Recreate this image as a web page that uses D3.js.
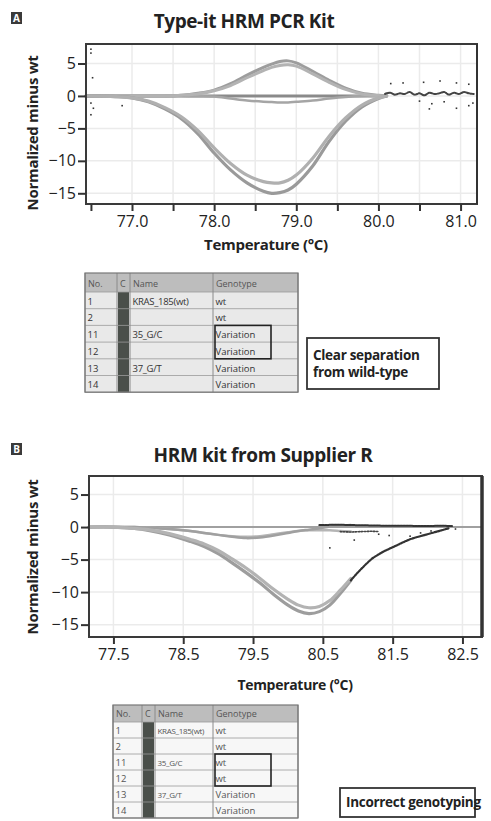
<!DOCTYPE html>
<html>
<head>
<meta charset="utf-8">
<script src="https://cdn.jsdelivr.net/npm/d3@7/dist/d3.min.js"></script>
<style>
  html, body { margin: 0; padding: 0; background: #fff; }
  svg { display: block; }
  text { font-family: "Open Sans", "Liberation Sans", sans-serif; }
</style>
</head>
<body>
<svg id="chart" width="491" height="821"></svg>
<script>
// ---------- Panel A: Type-it HRM PCR Kit ----------
const tempA      = [76.44, 76.8, 77.0, 77.2, 77.4, 77.6, 77.8, 78.0, 78.2, 78.4, 78.6, 78.7, 78.8, 78.9, 79.0, 79.2, 79.4, 79.6, 79.8, 80.0, 80.1];
const wtA        = [0, 0, 0, 0, 0, 0, 0, 0, 0, 0, 0, 0, 0, 0, 0, 0, 0, 0, 0, 0, 0];
const wtDipA     = [0, 0, 0, 0, 0, 0, -0.05, -0.1, -0.4, -0.7, -0.9, -0.95, -1.0, -1.0, -0.9, -0.7, -0.4, -0.15, 0, 0, 0];
const upA1       = [0, 0, 0, 0, 0, 0.1, 0.4, 0.9, 1.9, 3.2, 4.4, 4.9, 5.3, 5.4, 5.1, 3.8, 2.4, 1.2, 0.4, 0.1, 0];
const upA2       = [0, 0, 0, 0, 0, 0.1, 0.3, 0.8, 1.6, 2.8, 3.9, 4.4, 4.7, 4.8, 4.6, 3.4, 2.1, 1.0, 0.3, 0.05, 0];
const deepA1     = [0, -0.1, -0.3, -0.9, -2.0, -3.5, -5.8, -8.8, -11.4, -13.4, -14.7, -15.0, -14.9, -14.5, -13.6, -10.8, -7.0, -3.9, -1.7, -0.4, 0];
const deepA2     = [0, -0.1, -0.3, -0.8, -1.8, -3.2, -5.3, -8.0, -10.4, -12.2, -13.2, -13.4, -13.4, -13.0, -12.2, -9.6, -6.2, -3.4, -1.4, -0.3, 0];
// noisy raw readings after the melt
const noiseTempA = [80.08, 80.14, 80.2, 80.26, 80.32, 80.38, 80.44, 80.5, 80.56, 80.62, 80.68, 80.74, 80.8, 80.86, 80.92, 80.98, 81.04, 81.1, 81.16];
const noiseValA  = [0.3, 0.5, 0.2, 0.4, 0.3, 0.6, 0.2, 0.4, 0.1, 0.5, 0.3, 0.4, 0.6, 0.2, 0.5, 0.3, 0.6, 0.4, 0.3];
const speckTempA = [76.5, 76.5, 76.52, 76.5, 76.53, 76.5, 76.88, 80.15, 80.3, 80.55, 80.75, 80.95, 81.1, 80.5, 80.65, 80.62, 80.8, 80.95, 81.1, 81.15];
const speckValA  = [6.6, 7.2, 2.8, -1.1, -1.9, -2.9, -1.5, 1.9, 2.0, 2.1, 2.3, 2.0, 1.8, -0.8, -1.2, -2.0, -0.9, -1.9, -1.5, -1.1];
const xTicksA    = [76.5, 77.0, 77.5, 78.0, 78.5, 79.0, 79.5, 80.0, 80.5, 81.0];
const xLabelsA   = [77.0, 78.0, 79.0, 80.0, 81.0];

// ---------- Panel B: HRM kit from Supplier R ----------
const tempB      = [77.15, 77.5, 77.8, 78.0, 78.3, 78.6, 78.8, 79.0, 79.2, 79.4, 79.6, 79.8, 80.0, 80.15, 80.3, 80.45, 80.6, 80.75, 80.9];
const deepB1     = [0, 0, -0.2, -0.5, -1.2, -2.2, -3.0, -4.1, -5.5, -7.0, -8.6, -10.4, -12.0, -12.9, -13.3, -13.0, -12.0, -10.2, -8.2];
const deepB2     = [0, 0, -0.2, -0.4, -1.0, -1.9, -2.6, -3.6, -4.9, -6.3, -7.9, -9.6, -11.1, -12.0, -12.4, -12.2, -11.3, -9.7, -7.9];
const dipB1      = [0, 0, 0, -0.1, -0.3, -0.6, -0.9, -1.2, -1.5, -1.7, -1.6, -1.3, -0.9, -0.6, -0.4, -0.2, 0.1, 0.2, 0.3];
const dipB2      = [0, 0, 0, -0.1, -0.3, -0.6, -0.9, -1.2, -1.4, -1.5, -1.4, -1.1, -0.8, -0.6, -0.5, -0.5, -0.5, -0.6, -0.7];
const tailTempB  = [80.9, 81.0, 81.1, 81.2, 81.3, 81.4, 81.5, 81.6, 81.7, 81.8, 81.9, 82.0, 82.1, 82.2, 82.3];
const tailValB   = [-8.2, -7.0, -5.9, -4.9, -4.2, -3.6, -3.1, -2.6, -2.1, -1.7, -1.4, -1.1, -0.8, -0.5, -0.2];
const flatTempB  = [80.45, 80.7, 80.95, 81.2, 81.45, 81.7, 81.95, 82.2, 82.35];
const flatValB   = [0.3, 0.35, 0.3, 0.25, 0.2, 0.2, 0.15, 0.2, 0.15];
const lowTempB   = [80.75, 80.9, 81.05, 81.2, 81.3];
const lowValB    = [-0.7, -0.75, -0.7, -0.65, -0.7];
const speckTempB = [80.6, 80.95, 81.3, 81.45, 81.9, 82.4, 81.75, 82.05];
const speckValB  = [-3.2, -2.0, -1.1, -1.3, -0.9, -0.3, -1.4, -0.6];
const xTicksB    = [77.5, 78.5, 79.5, 80.5, 81.5, 82.5];

const yTicks     = [5, 0, -5, -10, -15];

// ---------- Genotype tables ----------
const rowNo      = ["1", "2", "11", "12", "13", "14"];
const rowName    = ["KRAS_185(wt)", "", "35_G/C", "", "37_G/T", ""];
const genoA      = ["wt", "wt", "Variation", "Variation", "Variation", "Variation"];
const genoB      = ["wt", "wt", "wt", "wt", "Variation", "Variation"];
const headers    = ["No.", "C", "Name", "Genotype"];

const svg = d3.select("#chart");
svg.append("rect").attr("width", 491).attr("height", 821).attr("fill", "#fff");

function drawPanel(cfg) {
  const g = svg.append("g");
  const x = d3.scaleLinear().domain(cfg.xDomain).range([cfg.left, cfg.right]);
  const y = d3.scaleLinear().domain(cfg.yDomain).range([cfg.bottom, cfg.top]);

  // panel letter badge
  g.append("rect").attr("x", 11).attr("y", cfg.badgeY).attr("width", 11).attr("height", 12).attr("fill", "#3a3a3a");
  g.append("text").attr("x", 16.5).attr("y", cfg.badgeY + 10).attr("text-anchor", "middle")
    .attr("fill", "#fff").attr("font-size", 10).attr("font-weight", 700).text(cfg.letter);

  // title
  g.append("text").attr("x", cfg.titleX).attr("y", cfg.titleY).attr("text-anchor", "middle")
    .attr("font-size", cfg.titleSize).attr("font-weight", 700).attr("fill", "#222")
    .attr("letter-spacing", -0.4).text(cfg.title);

  // faint grid
  const grid = g.append("g").attr("stroke", "#ebebeb").attr("stroke-width", 1.5);
  grid.selectAll("line.v").data(cfg.xTicks.filter(t => t > cfg.xDomain[0] + 0.1)).join("line")
    .attr("x1", d => x(d)).attr("x2", d => x(d)).attr("y1", cfg.top).attr("y2", cfg.bottom);
  grid.selectAll("line.h").data(yTicks).join("line")
    .attr("x1", cfg.left).attr("x2", cfg.right).attr("y1", d => y(d)).attr("y2", d => y(d));

  // curves
  const line = d3.line().x(d => x(d[0])).y(d => y(d[1])).curve(d3.curveCatmullRom.alpha(0.5));
  const pairs = (xs, ys) => xs.map((t, i) => [t, ys[i]]);
  cfg.curves.forEach(c => {
    const p = g.append("path").datum(pairs(c.t, c.v)).attr("d", line).attr("fill", "none")
      .attr("stroke", c.color).attr("stroke-width", c.width).attr("stroke-linecap", "round");
    if (c.dash) p.attr("stroke-dasharray", c.dash);
  });
  // scattered specks
  g.append("g").selectAll("rect").data(pairs(cfg.speckT, cfg.speckV)).join("rect")
    .attr("x", d => x(d[0]) - 0.8).attr("y", d => y(d[1]) - 0.8).attr("width", 1.6).attr("height", 1.6)
    .attr("fill", "#333");

  // frame
  g.append("rect").attr("x", cfg.left).attr("y", cfg.top).attr("width", cfg.right - cfg.left)
    .attr("height", cfg.bottom - cfg.top).attr("fill", "none").attr("stroke", "#3a3a3a").attr("stroke-width", 2);
  g.append("line").attr("x1", cfg.right).attr("x2", cfg.right).attr("y1", cfg.top).attr("y2", cfg.bottom)
    .attr("stroke", "#333").attr("stroke-width", cfg.rightWidth);

  // axes
  const yAxis = g.append("g").attr("transform", `translate(${cfg.left},0)`)
    .call(d3.axisLeft(y).tickValues(yTicks).tickSize(8).tickPadding(2).tickFormat(d3.format("d")));
  const xAxis = g.append("g").attr("transform", `translate(0,${cfg.bottom})`)
    .call(d3.axisBottom(x).tickValues(cfg.xTicks).tickSize(7).tickPadding(5)
      .tickFormat(d => cfg.xLabels.includes(d) ? d3.format(".1f")(d) : ""));
  [yAxis, xAxis].forEach(a => {
    a.select(".domain").remove();
    a.selectAll(".tick line").attr("stroke", "#333").attr("stroke-width", 2);
    a.selectAll(".tick text").attr("fill", "#222").attr("font-size", 16)
      .attr("font-family", "'Open Sans', sans-serif");
  });

  // axis titles
  g.append("text").attr("transform", `translate(${cfg.yTitleX},${cfg.yTitleY}) rotate(-90)`)
    .attr("text-anchor", "middle").attr("font-size", 15).attr("font-weight", 700).attr("fill", "#222")
    .attr("letter-spacing", -0.3).text("Normalized minus wt");
  g.append("text").attr("x", cfg.xTitleX).attr("y", cfg.xTitleY).attr("text-anchor", "middle")
    .attr("font-size", cfg.xTitleSize).attr("font-weight", 700).attr("fill", "#222")
    .attr("letter-spacing", -0.3).text("Temperature (°C)");
}

function drawTable(cfg) {
  const g = svg.append("g");
  const cols = cfg.cols;          // column edges
  const top = cfg.top, hh = cfg.headH, rh = cfg.rowH;
  const bottom = top + hh + rh * rowNo.length;
  g.append("rect").attr("x", cols[0]).attr("y", top).attr("width", cols[4] - cols[0])
    .attr("height", bottom - top).attr("fill", cfg.bg);
  g.append("rect").attr("x", cols[0]).attr("y", top).attr("width", cols[4] - cols[0])
    .attr("height", hh).attr("fill", "#bdbdbd");
  // dark colour column
  g.append("rect").attr("x", cols[1] + 1).attr("y", top + hh).attr("width", cols[2] - cols[1] - 2)
    .attr("height", rh * rowNo.length).attr("fill", "#4a4f4a");
  // row rules
  g.selectAll("line.r").data(d3.range(rowNo.length + 1)).join("line")
    .attr("x1", cols[0]).attr("x2", cols[4])
    .attr("y1", i => top + hh + i * rh).attr("y2", i => top + hh + i * rh)
    .attr("stroke", "#9a9a9a").attr("stroke-width", 0.8);
  g.selectAll("line.c").data(cols).join("line")
    .attr("x1", d => d).attr("x2", d => d).attr("y1", top).attr("y2", bottom)
    .attr("stroke", "#8a8a8a").attr("stroke-width", 1);
  // header text
  g.selectAll("text.h").data(headers).join("text")
    .attr("x", (d, i) => cols[i] + 3).attr("y", top + hh - 5)
    .attr("font-size", 9).attr("fill", "#555").text(d => d);
  // body text
  const cellText = (arr, ci, size, ls) => g.selectAll(null).data(arr).join("text")
    .attr("x", cols[ci] + 2.5).attr("y", (d, i) => top + hh + (i + 1) * rh - 4)
    .attr("font-size", size).attr("letter-spacing", ls).attr("fill", cfg.ink).text(d => d);
  cellText(rowNo, 0, 9.5, 0);
  cellText(rowName, 2, cfg.nameSize, -0.3);
  cellText(cfg.geno, 3, 9.5, 0);
  // highlight box around rows 11–12 genotype
  g.append("rect").attr("x", cols[3] + 2).attr("y", top + hh + 2 * rh)
    .attr("width", cfg.boxW).attr("height", 2 * rh)
    .attr("fill", "none").attr("stroke", "#222").attr("stroke-width", 1.6);
  // frame
  g.append("rect").attr("x", cols[0]).attr("y", top).attr("width", cols[4] - cols[0])
    .attr("height", bottom - top).attr("fill", "none").attr("stroke", "#777").attr("stroke-width", 1.2);
}

function drawCallout(x0, y0, w, h, lines, size) {
  const g = svg.append("g");
  g.append("rect").attr("x", x0).attr("y", y0).attr("width", w).attr("height", h)
    .attr("fill", "#fff").attr("stroke", "#333").attr("stroke-width", 1.8);
  g.selectAll("text").data(lines).join("text")
    .attr("x", x0 + 6).attr("y", (d, i) => y0 + h / 2 + (i - (lines.length - 1) / 2) * (size + 4) + size * 0.36)
    .attr("font-size", size).attr("font-weight", 700).attr("fill", "#222").attr("letter-spacing", -0.3)
    .text(d => d);
}

drawPanel({
  letter: "A", badgeY: 12, title: "Type-it HRM PCR Kit", titleX: 244, titleY: 28, titleSize: 19,
  left: 86, right: 477, top: 44, bottom: 204, rightWidth: 2,
  xDomain: [76.44, 81.2], yDomain: [-16.65, 8.0],
  xTicks: xTicksA, xLabels: xLabelsA,
  yTitleX: 38, yTitleY: 133, xTitleX: 266, xTitleY: 250, xTitleSize: 15,
  speckT: speckTempA, speckV: speckValA,
  curves: [
    { t: tempA, v: wtA, color: "#8a8a8a", width: 3 },
    { t: tempA, v: wtDipA, color: "#a5a5a5", width: 2.5 },
    { t: tempA, v: upA1, color: "#9d9d9d", width: 3 },
    { t: tempA, v: upA2, color: "#b3b3b3", width: 3 },
    { t: tempA, v: deepA1, color: "#9a9a9a", width: 3.2 },
    { t: tempA, v: deepA2, color: "#b0b0b0", width: 3.2 },
    { t: noiseTempA, v: noiseValA, color: "#444", width: 2, dash: "2 1" }
  ]
});

drawPanel({
  letter: "B", badgeY: 443, title: "HRM kit from Supplier R", titleX: 263, titleY: 462, titleSize: 19,
  left: 89, right: 482, top: 476, bottom: 637, rightWidth: 3.5,
  xDomain: [77.15, 82.78], yDomain: [-16.9, 7.85],
  xTicks: xTicksB, xLabels: xTicksB,
  yTitleX: 38, yTitleY: 557, xTitleX: 295, xTitleY: 690, xTitleSize: 14,
  speckT: speckTempB, speckV: speckValB,
  curves: [
    { t: [77.15, 82.78], v: [0, 0], color: "#a0a0a0", width: 2 },
    { t: tempB, v: dipB2, color: "#b5b5b5", width: 2.5 },
    { t: tempB, v: dipB1, color: "#a0a0a0", width: 2.5 },
    { t: tempB, v: deepB1, color: "#9d9d9d", width: 3.2 },
    { t: tempB, v: deepB2, color: "#b3b3b3", width: 3.2 },
    { t: tailTempB, v: tailValB, color: "#333", width: 2.2, dash: "2 1" },
    { t: flatTempB, v: flatValB, color: "#333", width: 2, dash: "2 1" },
    { t: lowTempB, v: lowValB, color: "#444", width: 1.6, dash: "1.5 1.5" }
  ]
});

drawTable({ cols: [85, 117, 130, 213, 298], top: 273, headH: 19, rowH: 16.7, geno: genoA,
            bg: "#e9e9e9", ink: "#333", boxW: 56, nameSize: 9.5 });
drawTable({ cols: [113, 142, 155, 213, 298], top: 705, headH: 17, rowH: 16, geno: genoB,
            bg: "#f7f7f7", ink: "#555", boxW: 56, nameSize: 8 });

drawCallout(307, 338, 132, 51, ["Clear separation", "from wild-type"], 13.5);
drawCallout(340, 788, 135, 29, ["Incorrect genotyping"], 13.5);
</script>
</body>
</html>
